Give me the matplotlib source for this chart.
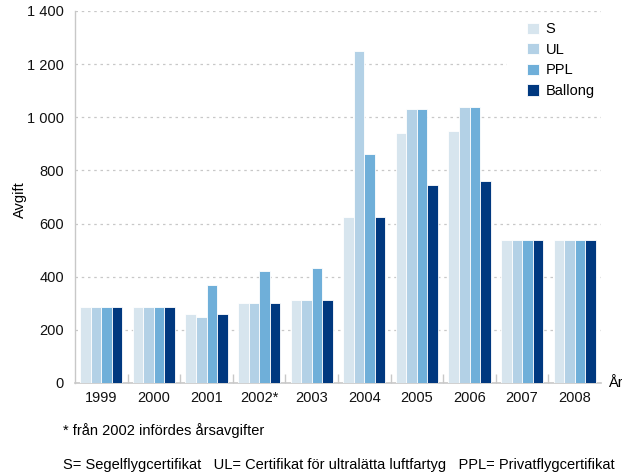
import matplotlib
matplotlib.use("Agg")
import matplotlib.pyplot as plt
import numpy as np
from matplotlib.patches import Rectangle
from matplotlib.ticker import FixedLocator, FuncFormatter

plt.rcParams['font.family'] = ['Liberation Sans', 'DejaVu Sans']

years = ["1999", "2000", "2001", "2002*", "2003", "2004", "2005", "2006", "2007", "2008"]
series_names = ["S", "UL", "PPL", "Ballong"]
s_vals = [285, 285, 260, 300, 313, 625, 940, 950, 540, 540]
ul_vals = [285, 285, 250, 300, 313, 1250, 1030, 1040, 540, 540]
ppl_vals = [285, 285, 370, 420, 433, 860, 1030, 1040, 540, 540]
ballong_vals = [285, 285, 260, 300, 313, 625, 745, 760, 540, 540]
colors = ["#d7e5ee", "#b3d1e6", "#6fafd9", "#00387f"]

W, H = 622, 472
fig = plt.figure(figsize=(W / 100, H / 100), dpi=100)
ax = fig.add_axes([75 / W, 89 / H, 526 / W, 372 / H])

x = np.arange(len(years))
w = 0.2
for j, (vals, name, c) in enumerate(zip([s_vals, ul_vals, ppl_vals, ballong_vals], series_names, colors)):
    ax.bar(x + (j - 1.5) * w, vals, width=w, color=c, edgecolor="white",
           linewidth=0.6, label=name, zorder=3)

ax.set_xlim(-0.5, len(years) - 0.5)
ax.set_ylim(0, 1400)
ax.yaxis.set_major_locator(FixedLocator(range(0, 1401, 200)))
ax.yaxis.set_major_formatter(FuncFormatter(lambda v, p: f"{int(v):,}".replace(",", " ")))
ax.grid(axis="y", color="#c8c8c8", linestyle=(0, (2, 3)), linewidth=0.9, zorder=0)
ax.set_axisbelow(True)

ax.set_xticks(x)
ax.set_xticklabels(years)
ax.set_xticks(np.arange(0.5, len(years) - 1, 1.0), minor=True)
ax.tick_params(axis="x", which="major", length=0, pad=6, labelsize=10.5, colors="#111111")
ax.tick_params(axis="x", which="minor", length=6.5, direction="in", color="#c8c8c8", width=1)
ax.tick_params(axis="y", length=0, pad=8, labelsize=10.5, colors="#111111")

for side in ["top", "right"]:
    ax.spines[side].set_visible(False)
ax.spines["left"].set_color("#c8c8c8")
ax.spines["bottom"].set_color("#c8c8c8")
ax.spines["left"].set_linewidth(1)
ax.spines["bottom"].set_linewidth(1.2)

fig.text(20 / W, 1 - 200 / H, "Avgift", fontsize=10.5, rotation=90,
         ha="center", va="center")
fig.text(608 / W, 1 - 383 / H, "År", fontsize=10.5, ha="left", va="center")

# white backing behind the legend block
ax.add_patch(Rectangle((507 / W, 1 - 100 / H), 95 / W, 83 / H,
                       transform=fig.transFigure, facecolor="white",
                       edgecolor="none", zorder=1, clip_on=False))

leg = ax.legend(loc="upper left", bbox_to_anchor=(523 / W, 1 - 18 / H),
                bbox_transform=fig.transFigure, frameon=False, fontsize=10.5,
                handlelength=0.8, handleheight=0.8, handletextpad=0.45,
                labelspacing=0.45, borderpad=0.3, borderaxespad=0)
leg.set_zorder(5)

fig.text(63 / W, 1 - 431 / H, "* från 2002 infördes årsavgifter", fontsize=10.5,
         ha="left", va="center")
fig.text(63 / W, 1 - 465 / H,
         "S= Segelflygcertifikat   UL= Certifikat för ultralätta luftfartyg   PPL= Privatflygcertifikat",
         fontsize=10.5, ha="left", va="center")

fig.savefig("out.png", dpi=100)
